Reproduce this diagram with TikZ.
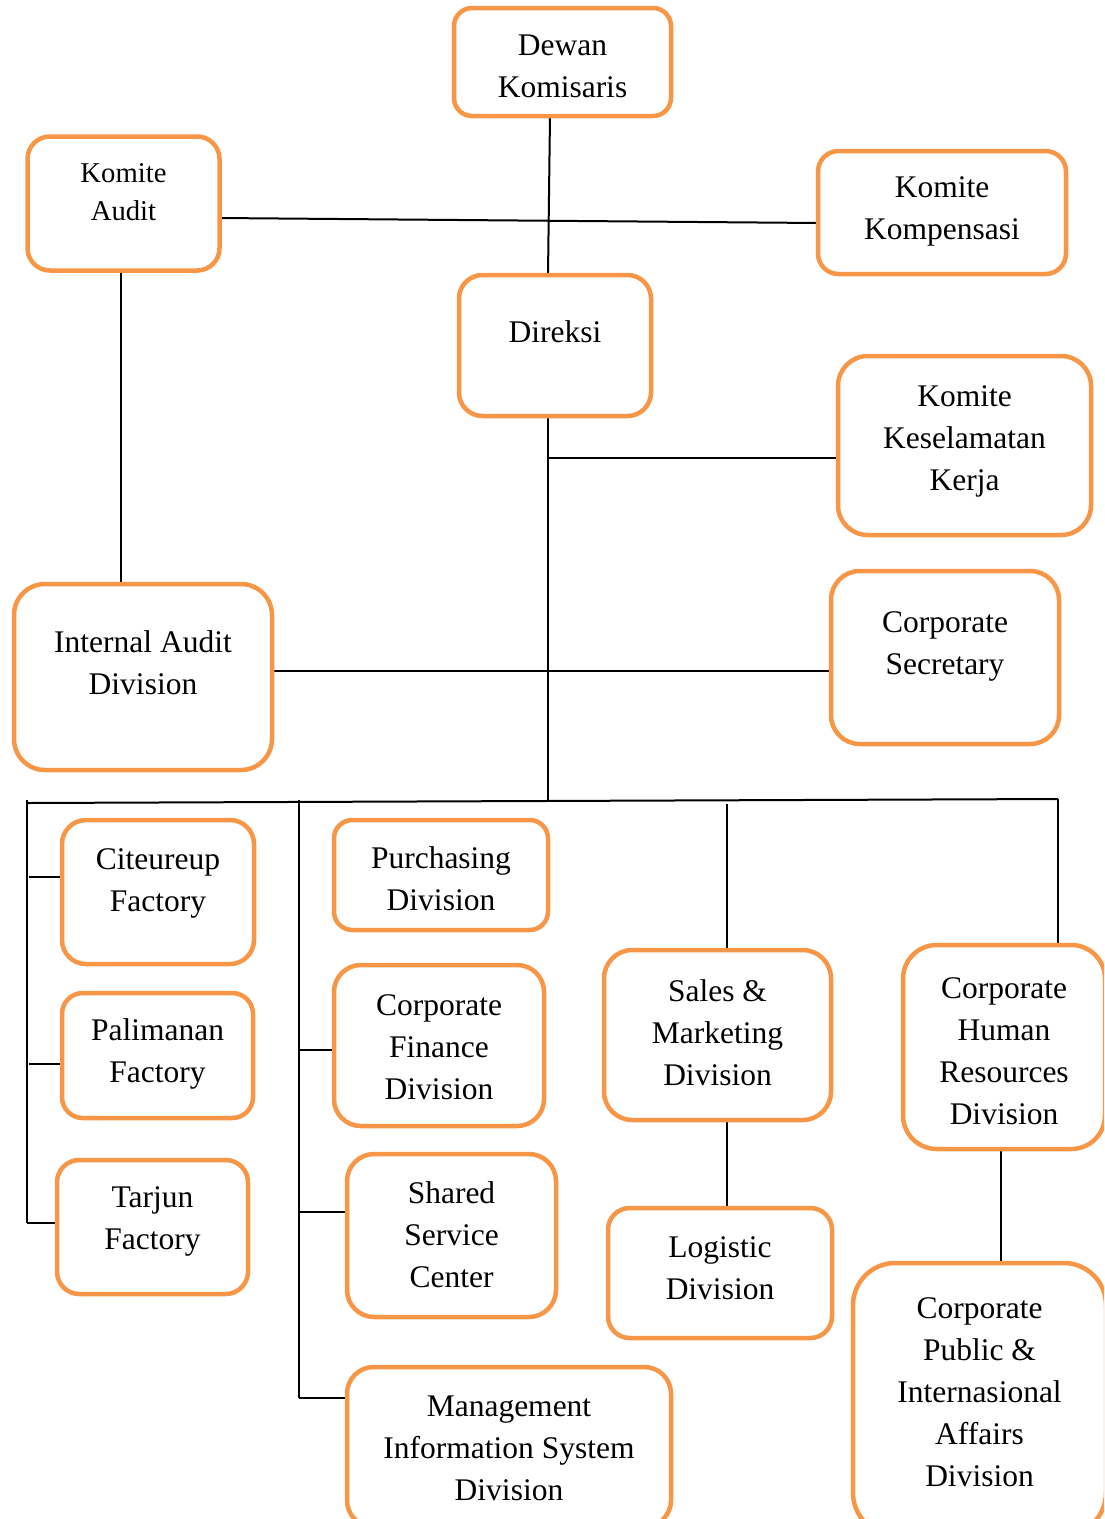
\documentclass[tikz,border=0pt]{standalone}
\usepackage{fontspec}
\setmainfont{Liberation Serif}
\usetikzlibrary{backgrounds,calc}
\definecolor{org}{HTML}{F79646}
\tikzset{
  orgbox/.style={draw=org, line width=4.5pt, fill=white, inner sep=0pt, outer sep=0pt},
  boxtext/.style={align=center, inner sep=0pt, anchor=base, font=\fontsize{31.5}{42}\selectfont},
  smalltext/.style={align=center, inner sep=0pt, anchor=base, font=\fontsize{28.7}{38}\selectfont},
  link/.style={draw=black, line width=2pt},
}
% style, name, x1, y1, x2, y2, baseline of last line, text
\newcommand\obox[8]{%
  \pgfmathsetmacro\bw{#5-#3}\pgfmathsetmacro\bh{#6-#4}%
  \pgfmathsetmacro\br{min(\bw,\bh)/6}%
  \pgfmathsetmacro\cx{(#3+#5)/2}\pgfmathsetmacro\cy{(#4+#6)/2}%
  \node[orgbox, minimum width=\bw pt, minimum height=\bh pt, rounded corners=\br pt] (#2) at (\cx,\cy) {};
  \node[#1] (#2-t) at (\cx,#7) {#8};
}
\begin{document}
\begin{tikzpicture}[x=1pt,y=-1pt]
\useasboundingbox (0,0) rectangle (1104,1519);
\clip (0,0) rectangle (1104,1519);
\obox{boxtext}{dewan}{454}{8}{671}{116}{97}{Dewan\\Komisaris}
\obox{smalltext}{audit}{27.5}{136.5}{219.5}{270.5}{220}{Komite\\Audit}
\obox{boxtext}{komp}{818}{151}{1066}{274}{239}{Komite\\Kompensasi}
\obox{boxtext}{direksi}{459}{275}{651}{416}{342}{Direksi}
\obox{boxtext}{kes}{838}{356}{1091}{535}{490}{Komite\\Keselamatan\\Kerja}
\obox{boxtext}{ia}{14}{584}{272}{770}{694}{Internal Audit\\Division}
\obox{boxtext}{cs}{831}{571}{1059}{744}{674}{Corporate\\Secretary}
\obox{boxtext}{cit}{62}{820}{254}{964}{911}{Citeureup\\Factory}
\obox{boxtext}{pal}{62}{993}{253}{1118}{1082}{Palimanan\\Factory}
\obox{boxtext}{tar}{57}{1160}{248}{1294}{1249}{Tarjun\\Factory}
\obox{boxtext}{pur}{334}{820}{548}{930}{910}{Purchasing\\Division}
\obox{boxtext}{fin}{334}{965}{544}{1126}{1099}{Corporate\\Finance\\Division}
\obox{boxtext}{ssc}{347}{1154}{556}{1317}{1287}{Shared\\Service\\Center}
\obox{boxtext}{mis}{347}{1367}{671}{1527}{1500}{Management\\Information System\\Division}
\obox{boxtext}{sales}{604}{950}{831}{1120}{1085}{Sales \&\\Marketing\\Division}
\obox{boxtext}{log}{608}{1208}{832}{1338}{1299}{Logistic\\Division}
\obox{boxtext}{hr}{903}{945}{1105}{1149}{1124}{Corporate\\Human\\Resources\\Division}
\obox{boxtext}{pub}{853}{1263}{1106}{1535}{1486}{Corporate\\Public \&\\Internasional\\Affairs\\Division}
\begin{scope}[on background layer]
  \draw[link] ([xshift=-12.5pt]dewan.south) -- ([xshift=-7pt]direksi.north);
  \draw[link] ([yshift=-14.5pt]audit.east) -- ([yshift=-10.5pt]komp.west);
  \draw[link] ([xshift=-2.5pt]audit.south) -- ([xshift=-2.5pt]audit.south |- ia.north);
  \coordinate (busL) at (27,803);
  \coordinate (busR) at (1058,799);
  \coordinate (busD) at (548,801);
  \draw[link] ([xshift=-7pt]direksi.south) -- (busD);
  \coordinate (kj) at (548,458);
  \draw[link] (kj) -- (kj -| kes.west);
  \draw[link] ([yshift=6pt]ia.east) -- ([yshift=6pt]ia.east -| cs.west);
  \draw[link] (busL) -- (busR);
  \coordinate (lvTop) at (27,800);
  \coordinate (lvBot) at (27,1223);
  \draw[link] (lvTop) -- (lvBot);
  \coordinate (t1) at (29,877);
  \coordinate (t2) at (29,1064);
  \draw[link] (t1) -- (t1 -| cit.west);
  \draw[link] (t2) -- (t2 -| pal.west);
  \draw[link] (lvBot) -- (lvBot -| tar.west);
  \coordinate (mvTop) at (299,800);
  \coordinate (mvBot) at (299,1398);
  \draw[link] (mvTop) -- (mvBot);
  \coordinate (m1) at (299,1050);
  \coordinate (m2) at (299,1212);
  \draw[link] (m1) -- (m1 -| fin.west);
  \draw[link] (m2) -- (m2 -| ssc.west);
  \draw[link] (mvBot) -- (mvBot -| mis.west);
  \coordinate (sv) at (727,804);
  \draw[link] (sv) -- (sv |- sales.north);
  \draw[link] (sv |- sales.south) -- (sv |- log.north);
  \draw[link] (busR) -- (busR |- hr.north);
  \draw[link] ([xshift=-3pt]hr.south) -- ([xshift=-3pt]hr.south |- pub.north);
\end{scope}
\end{tikzpicture}
\end{document}
